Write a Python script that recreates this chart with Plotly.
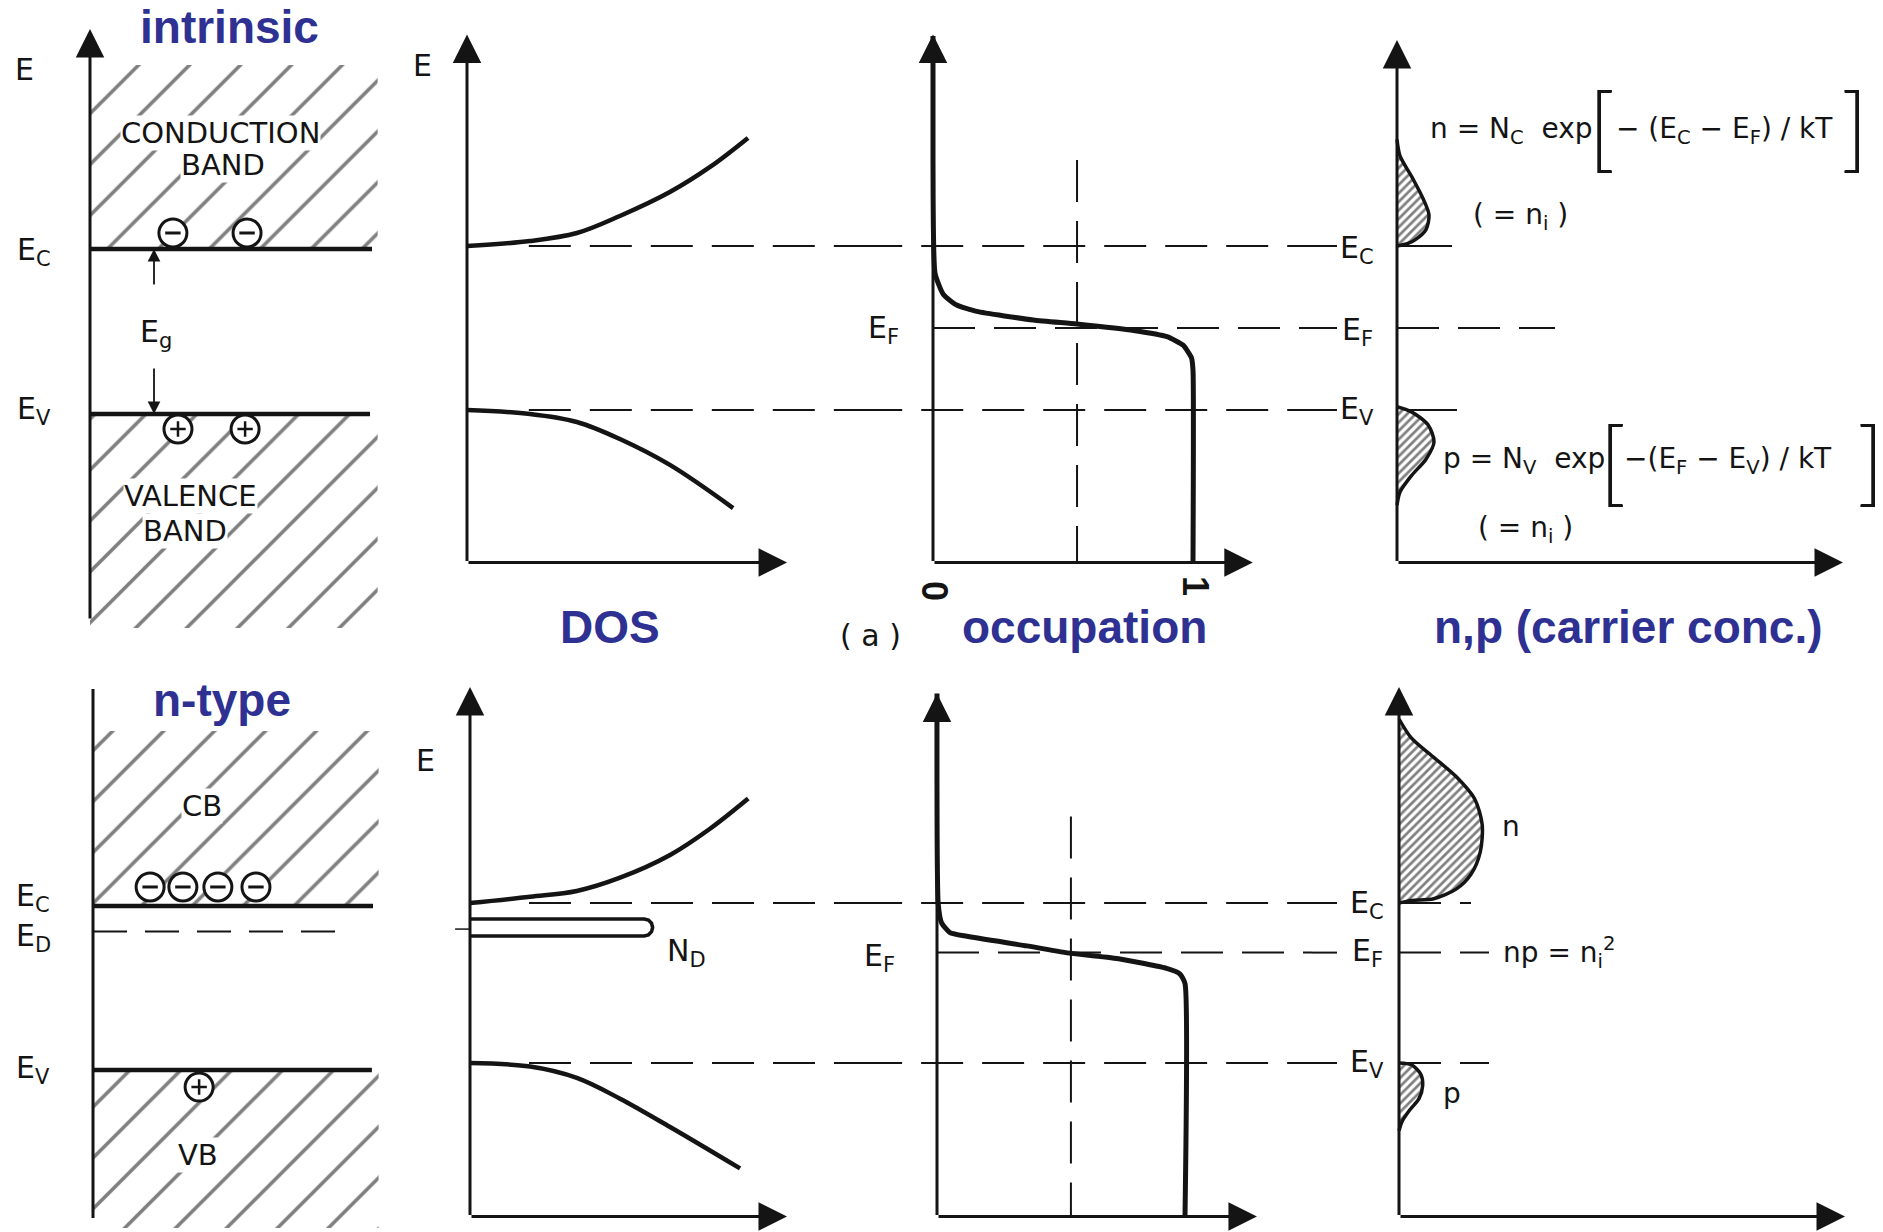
import plotly.graph_objects as go

W, H = 1883, 1232
INK = "#141414"
BLUE = "#2E3192"
SCAN = "DejaVu Sans, Arial, sans-serif"
BOLD = "Liberation Sans, Arial, sans-serif"

# ---------------- data (energies normalised: E_V = 0, E_C = 1) ----------------
E_C = 1.0
E_V = 0.0
E_F_INTR = 0.5
E_F_N = 0.69
E_D = 0.845

# density of states (arb. units) vs energy
dos_cb_intr_g = [0.0, 0.224, 0.391, 0.544, 0.722, 0.865, 1.0]
dos_cb_intr_E = [1.0, 1.03, 1.079, 1.183, 1.329, 1.482, 1.659]
dos_vb_intr_g = [0.0, 0.224, 0.391, 0.544, 0.722, 0.947]
dos_vb_intr_E = [0.0, -0.024, -0.073, -0.177, -0.335, -0.598]

dos_cb_n_g = [0.0, 0.214, 0.38, 0.534, 0.712, 0.854, 0.99]
dos_cb_n_E = [1.0, 1.039, 1.075, 1.158, 1.3, 1.464, 1.653]
dos_vb_n_g = [0.0, 0.214, 0.38, 0.534, 0.712, 0.961]
dos_vb_n_E = [0.0, -0.022, -0.093, -0.223, -0.4, -0.659]

donor_g = [0.0, 0.62, 0.635, 0.646, 0.65, 0.646, 0.635, 0.62, 0.0]
donor_E = [0.9, 0.9, 0.893, 0.8735, 0.847, 0.8205, 0.801, 0.794, 0.794]

# Fermi-Dirac occupation vs energy
occ_intr_f = [0.0, 0.0, 0.008, 0.04, 0.091, 0.168, 0.386, 0.553, 0.772, 0.90, 0.962, 0.994, 1.0, 1.0]
occ_intr_E = [2.28, 1.5, 0.832, 0.704, 0.640, 0.601, 0.549, 0.524, 0.485, 0.447, 0.395, 0.319, 0.241, -0.93]
occ_n_f = [0.0, 0.005, 0.019, 0.052, 0.12, 0.362, 0.54, 0.738, 0.926, 0.98, 1.0, 1.0]
occ_n_E = [2.31, 0.993, 0.874, 0.815, 0.792, 0.732, 0.685, 0.65, 0.591, 0.556, 0.497, -0.96]
occ_half_intr = 0.554
occ_half_n = 0.54

# carrier concentrations (arb. units) vs energy
n_intr_c = [0.0, 0.11, 0.18, 0.29, 0.32, 0.26, 0.15, 0.03, 0.0]
n_intr_E = [1.0, 1.016, 1.037, 1.10, 1.19, 1.29, 1.42, 1.55, 1.65]
p_intr_c = [0.0, 0.14, 0.31, 0.37, 0.29, 0.145, 0.03, 0.0]
p_intr_E = [0.02, -0.01, -0.09, -0.195, -0.3, -0.4, -0.5, -0.58]
n_n_c = [0.0, 0.125, 0.348, 0.571, 0.72, 0.813, 0.832, 0.757, 0.571, 0.348, 0.125, 0.0]
n_n_E = [1.0, 1.016, 1.027, 1.087, 1.18, 1.32, 1.49, 1.65, 1.79, 1.91, 2.03, 2.15]
p_n_c = [0.0, 0.125, 0.218, 0.237, 0.2, 0.107, 0.032, 0.0]
p_n_E = [0.0, -0.011, -0.07, -0.14, -0.223, -0.294, -0.364, -0.424]

# charges drawn in the band diagrams (position, energy)
electrons_intr_x = [0.294, 0.557]
electrons_intr_E = [1.097, 1.097]
holes_intr_x = [0.312, 0.55]
holes_intr_E = [-0.091, -0.091]
electrons_n_x = [0.204, 0.321, 0.446, 0.582]
electrons_n_E = [1.116, 1.116, 1.116, 1.116]
holes_n_x = [0.379]
holes_n_E = [-0.104]

# ---------------- geometry (pixels) ----------------
XAX = {  # axis id: (domain px, origin px, px per unit, y axis)
    "x":  ((0, 400), 90, 282, "y3"),
    "x2": ((400, 862), 467, 281, "y"),
    "x3": ((862, 1312), 933, 260, "y"),
    "x4": ((1312, 1883), 1397, 100, "y"),
    "x5": ((0, 400), 93, 280, "y4"),
    "x6": ((400, 862), 470, 281, "y2"),
    "x7": ((862, 1312), 937, 248, "y2"),
    "x8": ((1312, 1883), 1399, 100, "y2"),
}
YAX = {  # axis id: (domain px, pixel of E_V, px per unit, anchor)
    "y":  ((0, 640), 410, 164, "x2"),
    "y2": ((640, 1232), 1063, 160, "x6"),
    "y3": ((0, 640), 414, 165, "x"),
    "y4": ((640, 1232), 1070, 164, "x5"),
}

layout_axes = {}
for k, (dom, x0, s, ya) in XAX.items():
    name = "xaxis" + k[1:]
    layout_axes[name] = dict(domain=[dom[0] / W, dom[1] / W],
                             range=[(dom[0] - x0) / s, (dom[1] - x0) / s],
                             anchor=ya, visible=False, fixedrange=True)
for k, (dom, ev, s, xa) in YAX.items():
    name = "yaxis" + k[1:]
    layout_axes[name] = dict(domain=[1 - dom[1] / H, 1 - dom[0] / H],
                             range=[(ev - dom[1]) / s, (ev - dom[0]) / s],
                             anchor=xa, visible=False, fixedrange=True)

fig = go.Figure()
ann = []
DASH = "42px,19px"


def line(xa, ya, xs, ys, width=3.0, dash=None, shape="linear", smoothing=1.0, color=INK):
    ln = dict(color=color, width=width, shape=shape)
    if shape == "spline":
        ln["smoothing"] = smoothing
    if dash:
        ln["dash"] = dash
    fig.add_trace(go.Scatter(x=xs, y=ys, xaxis=xa, yaxis=ya, mode="lines", line=ln,
                             hoverinfo="skip", showlegend=False))


def hatch(xa, ya, xs, ys, size, solidity, outline=0.0, shape="linear"):
    ln = dict(color=INK, width=outline, shape=shape)
    if shape == "spline":
        ln["smoothing"] = 0.8
    fig.add_trace(go.Scatter(x=xs, y=ys, xaxis=xa, yaxis=ya, mode="lines", fill="toself",
                             fillcolor="white",
                             fillpattern=dict(shape="/", size=size, solidity=solidity,
                                              fgcolor="#000000", bgcolor="white"),
                             line=ln, hoverinfo="skip", showlegend=False))


def rect_hatch(xa, ya, x0, x1, e0, e1):
    hatch(xa, ya, [x0, x1, x1, x0, x0], [e0, e0, e1, e1, e0], size=36, solidity=0.1)


def hlevel(xa, ya, x0, x1, E, width=2.0, dash=DASH):
    line(xa, ya, [x0, x1], [E, E], width=width, dash=dash)


def charges(xa, ya, xs, Es, sign):
    fig.add_trace(go.Scatter(x=xs, y=Es, xaxis=xa, yaxis=ya, mode="markers",
                             marker=dict(symbol="circle", size=28, color="white",
                                         line=dict(color=INK, width=3)),
                             hoverinfo="skip", showlegend=False))
    fig.add_trace(go.Scatter(x=xs, y=Es, xaxis=xa, yaxis=ya, mode="markers",
                             marker=dict(symbol="line-ew" if sign < 0 else "cross-thin", size=11,
                                         color=INK, line=dict(color=INK, width=3 if sign < 0 else 2.5)),
                             hoverinfo="skip", showlegend=False))


def arrow(xa, ya, tip, tail, width=3.0, size=1.9):
    ann.append(dict(x=tip[0], y=tip[1], ax=tail[0], ay=tail[1], xref=xa, yref=ya,
                    axref=xa, ayref=ya, showarrow=True, arrowhead=2, arrowsize=size,
                    arrowwidth=width, arrowcolor=INK, text="", standoff=0, startstandoff=0))


def label(xa, ya, x, y, text, size=30, color=INK, family=SCAN, weight="normal", angle=0,
          xanchor="center", bg=None):
    d = dict(x=x, y=y, xref=xa, yref=ya, text=text, showarrow=False, xanchor=xanchor,
             yanchor="middle", textangle=angle,
             font=dict(family=family, size=size, color=color, weight=weight))
    if bg:
        d["bgcolor"] = bg
        d["borderpad"] = 0
    ann.append(d)


def title(xa, ya, x, y, text):
    label(xa, ya, x, y, text, size=46, color=BLUE, family=BOLD, weight="bold")


BR = dict(size=92, family="Lato, DejaVu Sans", weight=300)

# ================= TOP ROW: intrinsic =================
# panel 1: band diagram
rect_hatch("x", "y3", 0, 1.02, E_C, 2.115)
rect_hatch("x", "y3", 0, 1.02, E_V, -1.297)
line("x", "y3", [0, 1.0], [E_C, E_C], width=4.5)
line("x", "y3", [0, 0.993], [E_V, E_V], width=4.5)
arrow("x", "y3", (0, 2.333), (0, -1.248))
charges("x", "y3", electrons_intr_x, electrons_intr_E, -1)
charges("x", "y3", holes_intr_x, holes_intr_E, +1)
arrow("x", "y3", (0.227, E_C), (0.227, 0.776), width=1.8, size=1.4)
arrow("x", "y3", (0.227, E_V), (0.227, 0.285), width=1.8, size=1.4)
label("x", "y3", -0.234, 2.085, "E")
label("x", "y3", -0.2, 0.982, "E<sub>C</sub>")
label("x", "y3", 0.234, 0.485, "E<sub>g</sub>")
label("x", "y3", -0.2, 0.024, "E<sub>V</sub>")
label("x", "y3", 0.461, 1.703, "CONDUCTION", size=29, bg="white")
label("x", "y3", 0.472, 1.509, "BAND", size=29, bg="white")
label("x", "y3", 0.355, -0.497, "VALENCE", size=29, bg="white")
label("x", "y3", 0.337, -0.709, "BAND", size=29, bg="white")
title("x", "y3", 0.496, 2.345, "intrinsic")

# panel 2: DOS
hlevel("x2", "y", 0.22, 1.41, E_C)
hlevel("x2", "y", 0.22, 1.41, E_V)
line("x2", "y", dos_cb_intr_g, dos_cb_intr_E, width=4.5, shape="spline")
line("x2", "y", dos_vb_intr_g, dos_vb_intr_E, width=4.5, shape="spline")
arrow("x2", "y", (0, 2.29), (0, -0.93))
arrow("x2", "y", (1.139, -0.93), (0, -0.93))
label("x2", "y", -0.157, 2.1, "E")
title("x2", "y", 0.509, -1.323, "DOS")

# panel 3: occupation
hlevel("x3", "y", -0.28, 1.46, E_C)
hlevel("x3", "y", -0.28, 1.46, E_V)
hlevel("x3", "y", 0, 1.46, E_F_INTR)
line("x3", "y", [occ_half_intr, occ_half_intr], [1.524, -0.93], width=2, dash=DASH)
line("x3", "y", occ_intr_f, occ_intr_E, width=5, shape="spline", smoothing=0.5)
arrow("x3", "y", (0, 2.29), (0, -0.93))
arrow("x3", "y", (1.23, -0.93), (0, -0.93))
label("x3", "y", -0.19, 0.488, "E<sub>F</sub>")
label("x3", "y", 0.008, -1.104, "0", size=36, weight="bold", family=BOLD, angle=90)
label("x3", "y", 1.008, -1.073, "1", size=36, weight="bold", family=BOLD, angle=90)
label("x3", "y", -0.24, -1.372, "( a )", size=30)
title("x3", "y", 0.581, -1.323, "occupation")

# panel 4: carrier concentration
for E in (E_C, E_F_INTR, E_V):
    hlevel("x4", "y", -0.86, -0.6, E)
hlevel("x4", "y", 0, 0.55, E_C, dash=None)
hlevel("x4", "y", 0, 0.6, E_V, dash=None)
hlevel("x4", "y", 0, 1.58, E_F_INTR)
hatch("x4", "y", n_intr_c, n_intr_E, size=6, solidity=0.45, outline=3.5, shape="spline")
hatch("x4", "y", p_intr_c, p_intr_E, size=6, solidity=0.45, outline=3.5, shape="spline")
arrow("x4", "y", (0, 2.256), (0, -0.93))
arrow("x4", "y", (4.46, -0.93), (0, -0.93))
label("x4", "y", -0.40, 0.98, "E<sub>C</sub>")
label("x4", "y", -0.40, 0.476, "E<sub>F</sub>")
label("x4", "y", -0.40, 0.0, "E<sub>V</sub>")
label("x4", "y", 0.31, 1.707, "n = N<sub>C</sub>  exp", size=28, xanchor="left")
label("x4", "y", 2.04, 1.735, "[", **BR)
label("x4", "y", 2.17, 1.707, "− (E<sub>C</sub> − E<sub>F</sub>) / kT", size=28, xanchor="left")
label("x4", "y", 4.57, 1.735, "]", **BR)
label("x4", "y", 1.23, 1.177, "( = n<sub>i</sub> )", size=28)
label("x4", "y", 0.44, -0.305, "p = N<sub>V</sub>  exp", size=28, xanchor="left")
label("x4", "y", 2.15, -0.30, "[", **BR)
label("x4", "y", 2.25, -0.305, "−(E<sub>F</sub> − E<sub>V</sub>) / kT", size=28, xanchor="left")
label("x4", "y", 4.73, -0.30, "]", **BR)
label("x4", "y", 1.28, -0.73, "( = n<sub>i</sub> )", size=28)
title("x4", "y", 2.31, -1.323, "n,p (carrier conc.)")

# ================= BOTTOM ROW: n-type =================
# panel 5: band diagram
rect_hatch("x5", "y4", 0, 1.02, E_C, 2.067)
rect_hatch("x5", "y4", 0, 1.02, E_V, -0.963)
line("x5", "y4", [0, 1.0], [E_C, E_C], width=4.5)
line("x5", "y4", [0, 0.996], [E_V, E_V], width=4.5)
hlevel("x5", "y4", 0, 0.89, E_D, dash="34px,18px")
line("x5", "y4", [0, 0], [-0.902, 2.323], width=3)
charges("x5", "y4", electrons_n_x, electrons_n_E, -1)
charges("x5", "y4", holes_n_x, holes_n_E, +1)
label("x5", "y4", -0.214, 1.049, "E<sub>C</sub>")
label("x5", "y4", -0.214, 0.805, "E<sub>D</sub>")
label("x5", "y4", -0.214, 0.006, "E<sub>V</sub>")
label("x5", "y4", 0.39, 1.61, "CB", size=29, bg="white")
label("x5", "y4", 0.375, -0.518, "VB", size=29, bg="white")
title("x5", "y4", 0.461, 2.256, "n-type")

# panel 6: DOS with donor level
hlevel("x6", "y2", 0.21, 1.40, E_C)
hlevel("x6", "y2", 0.21, 1.40, E_V)
line("x6", "y2", dos_cb_n_g, dos_cb_n_E, width=4.5, shape="spline")
line("x6", "y2", dos_vb_n_g, dos_vb_n_E, width=4.5, shape="spline")
line("x6", "y2", donor_g, donor_E, width=3.5)
line("x6", "y2", [-0.053, 0], [E_D - 0.008, E_D - 0.008], width=1.5)
arrow("x6", "y2", (0, 2.35), (0, -0.96))
arrow("x6", "y2", (1.128, -0.96), (0, -0.96))
label("x6", "y2", -0.16, 1.89, "E")
label("x6", "y2", 0.77, 0.6875, "N<sub>D</sub>")

# panel 7: occupation
hlevel("x7", "y2", -0.31, 1.52, E_C)
hlevel("x7", "y2", -0.31, 1.52, E_V)
hlevel("x7", "y2", 0, 1.52, E_F_N)
line("x7", "y2", [occ_half_n, occ_half_n], [1.54, -0.96], width=2, dash=DASH)
line("x7", "y2", occ_n_f, occ_n_E, width=5, shape="spline", smoothing=0.5)
arrow("x7", "y2", (0, 2.31), (0, -0.96))
arrow("x7", "y2", (1.29, -0.96), (0, -0.96))
label("x7", "y2", -0.23, 0.66, "E<sub>F</sub>")

# panel 8: carrier concentration
for E in (E_C, E_F_N, E_V):
    hlevel("x8", "y2", -0.88, -0.62, E)
hlevel("x8", "y2", 0, 0.72, E_C)
hlevel("x8", "y2", 0, 0.9, E_F_N)
hlevel("x8", "y2", 0, 0.9, E_V)
hatch("x8", "y2", n_n_c, n_n_E, size=6, solidity=0.45, outline=3.5, shape="spline")
hatch("x8", "y2", p_n_c, p_n_E, size=6, solidity=0.45, outline=3.5, shape="spline")
arrow("x8", "y2", (0, 2.35), (0, -0.96))
arrow("x8", "y2", (4.46, -0.96), (0, -0.96))
label("x8", "y2", -0.32, 0.99, "E<sub>C</sub>")
label("x8", "y2", -0.32, 0.69, "E<sub>F</sub>")
label("x8", "y2", -0.32, 0.0, "E<sub>V</sub>")
label("x8", "y2", 1.12, 1.475, "n", size=28)
label("x8", "y2", 0.53, -0.19, "p", size=28)
label("x8", "y2", 1.02, 0.69, "np = n<sub>i</sub><sup>2</sup>", size=28, xanchor="left")

fig.update_layout(
    width=W, height=H, margin=dict(l=0, r=0, t=0, b=0, pad=0),
    paper_bgcolor="white", plot_bgcolor="rgba(0,0,0,0)",
    showlegend=False, annotations=ann, **layout_axes,
)
fig.write_html("out.html", config={"displayModeBar": False})
